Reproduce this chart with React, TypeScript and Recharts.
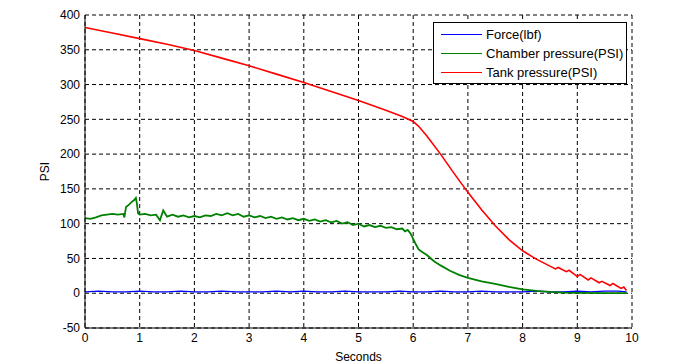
import React from "react";
import {
  LineChart,
  Line,
  XAxis,
  YAxis,
  CartesianGrid,
  Legend,
} from "recharts";

// tick labels
const xTicks = [0, 1, 2, 3, 4, 5, 6, 7, 8, 9, 10];
const yTicks = [-50, 0, 50, 100, 150, 200, 250, 300, 350, 400];

// Force(lbf)
const forceTime = [
  0, 0.25, 0.5, 0.75, 1, 1.25, 1.5, 1.75, 2, 2.25, 2.5, 2.75, 3, 3.25, 3.5,
  3.75, 4, 4.25, 4.5, 4.75, 5, 5.25, 5.5, 5.75, 6, 6.25, 6.5, 6.75, 7, 7.25,
  7.5, 7.75, 8, 8.25, 8.5, 8.75, 9, 9.25, 9.5, 9.75, 9.9,
];
const forceValue = [
  2, 3, 2, 2, 3, 2, 2, 3, 2, 2, 3, 2, 2, 2, 3, 2, 3, 2, 2, 3, 2, 2, 2, 3, 2,
  2, 3, 2, 2, 3, 2, 2, 2, 3, 2, 2, 3, 2, 3, 3, 2,
];

// Chamber pressure(PSI)
const chamberTime = [
  0, 0.1, 0.2, 0.3, 0.4, 0.5, 0.6, 0.7, 0.72, 0.75, 0.8, 0.85, 0.9, 0.93,
  0.95, 0.97, 1.0, 1.1, 1.2, 1.3, 1.37, 1.43, 1.5, 1.6, 1.7, 1.8, 1.9, 2.0,
  2.1, 2.2, 2.3, 2.4, 2.5, 2.6, 2.7, 2.8, 2.9, 3.0, 3.1, 3.2, 3.3, 3.4, 3.5,
  3.6, 3.7, 3.8, 3.9, 4.0, 4.1, 4.2, 4.3, 4.4, 4.5, 4.6, 4.7, 4.8, 4.9, 5.0,
  5.1, 5.2, 5.3, 5.4, 5.5, 5.6, 5.7, 5.8, 5.85, 5.9, 5.95, 6.0, 6.05, 6.1,
  6.15, 6.25, 6.38, 6.5, 6.68, 6.85, 7.0, 7.25, 7.5, 7.75, 8.0, 8.25, 8.5,
  8.75, 9.0, 9.5, 9.9,
];
const chamberValue = [
  108, 107, 109, 112, 113, 114, 113, 114, 109, 124, 127, 131, 134, 137, 128,
  115, 113, 114, 112, 113, 105, 119, 110, 113, 110, 112, 109, 111, 109, 112,
  111, 114, 112, 115, 112, 114, 110, 112, 109, 111, 108, 110, 107, 109, 106,
  108, 105, 107, 104, 106, 103, 105, 102, 104, 100, 102, 98, 100, 96, 98, 95,
  97, 94, 95, 92, 93, 89, 91, 86, 78, 70, 63, 60, 55, 46, 40, 32, 26, 22, 17,
  13.5, 9, 5.5, 3.5, 2, 1, 0.5, 0, 0,
];

// Tank pressure(PSI)
const tankTime = [
  0, 0.5, 1, 1.5, 2, 2.5, 3, 3.5, 4, 4.5, 5, 5.5, 5.8, 6, 6.1, 6.25, 6.5,
  6.75, 7, 7.25, 7.5, 7.75, 8, 8.25, 8.5, 8.6, 8.65, 8.8, 8.85, 9, 9.05, 9.2,
  9.25, 9.4, 9.45, 9.6, 9.65, 9.8, 9.85, 9.9,
];
const tankValue = [
  382, 374, 366, 358, 349, 338, 327, 315, 303, 290, 277, 263, 254, 247, 240,
  226, 200, 172, 145, 120, 97, 77, 61, 49, 39, 35, 37, 31, 33, 24, 27, 19, 22,
  15, 17, 11, 14, 7, 9, 4,
];

const toPoints = (t: number[], v: number[]) =>
  t.map((x, i) => ({ t: x, v: v[i] }));

const force = toPoints(forceTime, forceValue);
const chamber = toPoints(chamberTime, chamberValue);
const tank = toPoints(tankTime, tankValue);

const series = [
  { name: "Force(lbf)", color: "#0000ff" },
  { name: "Chamber pressure(PSI)", color: "#008000" },
  { name: "Tank pressure(PSI)", color: "#ff0000" },
];

const font = "'Liberation Sans', Arial, sans-serif";

function LegendBox() {
  return (
    <div
      style={{
        width: 192,
        height: 58,
        border: "1px solid #000",
        background: "#fff",
        fontFamily: font,
        fontSize: 13,
        color: "#000",
        paddingTop: 2,
        boxSizing: "content-box",
      }}
    >
      {series.map((s) => (
        <div
          key={s.name}
          style={{ display: "flex", alignItems: "center", height: 19 }}
        >
          <svg width={52} height={19}>
            <line x1={7} y1={9.5} x2={48} y2={9.5} stroke={s.color} />
          </svg>
          <span>{s.name}</span>
        </div>
      ))}
    </div>
  );
}

export default function App() {
  const tickStyle = { fill: "#000", fontSize: 12, fontFamily: font };
  return (
    <div style={{ position: "absolute", left: 0, top: 0, background: "#fff" }}>
      <LineChart
        width={691}
        height={363}
        margin={{ top: 15, right: 59, bottom: 0, left: 0 }}
      >
        <CartesianGrid stroke="#000" strokeDasharray="4 3" />
        <XAxis
          dataKey="t"
          type="number"
          domain={[0, 10]}
          ticks={xTicks}
          height={35}
          tickLine={false}
          tickSize={3}
          tickMargin={2}
          stroke="#000"
          tick={tickStyle}
          label={{
            value: "Seconds",
            position: "insideBottom",
            offset: 2,
            fill: "#000",
            fontSize: 12,
            fontFamily: font,
          }}
        />
        <YAxis
          type="number"
          domain={[-50, 400]}
          ticks={yTicks}
          width={85}
          tickLine={false}
          tickSize={3}
          tickMargin={2}
          stroke="#000"
          tick={tickStyle}
          label={{
            value: "PSI",
            angle: -90,
            position: "center",
            dx: 2,
            fill: "#000",
            fontSize: 12,
            fontFamily: font,
          }}
        />
        <XAxis
          xAxisId="top"
          orientation="top"
          type="number"
          domain={[0, 10]}
          height={0}
          tick={false}
          tickLine={false}
          stroke="#000"
        />
        <YAxis
          yAxisId="right"
          orientation="right"
          type="number"
          domain={[-50, 400]}
          width={0}
          tick={false}
          tickLine={false}
          stroke="#000"
        />
        <Line
          data={force}
          dataKey="v"
          name="Force(lbf)"
          type="linear"
          stroke="#0000ff"
          strokeWidth={1.2}
          dot={false}
          isAnimationActive={false}
        />
        <Line
          data={chamber}
          dataKey="v"
          name="Chamber pressure(PSI)"
          type="linear"
          stroke="#008000"
          strokeWidth={1.8}
          dot={false}
          isAnimationActive={false}
        />
        <Line
          data={tank}
          dataKey="v"
          name="Tank pressure(PSI)"
          type="linear"
          stroke="#ff0000"
          strokeWidth={1.6}
          dot={false}
          isAnimationActive={false}
        />
        <Legend
          layout="vertical"
          align="center"
          verticalAlign="middle"
          content={() => <LegendBox />}
          wrapperStyle={{ left: 433, top: 22, width: 194 }}
        />
      </LineChart>
    </div>
  );
}
